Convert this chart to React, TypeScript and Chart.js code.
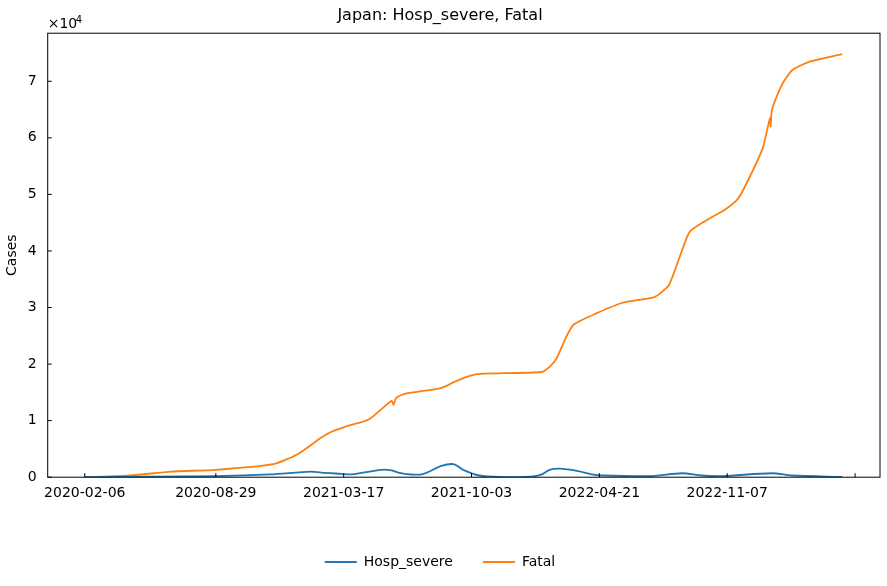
import React, { useEffect, useRef } from "react";
import { Chart, registerables } from "chart.js";
Chart.register(...registerables);

const tickDays = [0, 205, 405, 605, 805, 1005, 1205];
const tickLabels = ["2020-02-06", "2020-08-29", "2021-03-17", "2021-10-03", "2022-04-21", "2022-11-07", ""];
const fatalDays = [0, 72, 135, 205, 295, 332, 370, 385, 409, 444, 480, 483, 487, 503, 527, 558, 581, 605, 624, 715, 727, 738, 754, 765, 801, 840, 890, 900, 914, 934, 947, 981, 1000, 1020, 1031, 1060, 1072, 1073, 1075, 1091, 1107, 1135, 1185];
const fatalVals = [0, 300, 1000, 1300, 2300, 4000, 7000, 8000, 9000, 10200, 13500, 12800, 14000, 14800, 15200, 15800, 17000, 18000, 18300, 18600, 19500, 21000, 25000, 27000, 29000, 30800, 31800, 32500, 34000, 40000, 43500, 46000, 47200, 49000, 51000, 58000, 63500, 62000, 65000, 69500, 72000, 73500, 74800];
const hospDays = [0, 205, 290, 354, 370, 401, 417, 464, 480, 495, 527, 558, 577, 592, 617, 652, 699, 715, 727, 743, 770, 793, 809, 887, 934, 965, 997, 1075, 1107, 1185];
const hospVals = [0, 200, 500, 1000, 800, 600, 500, 1300, 1200, 700, 500, 2000, 2300, 1300, 300, 50, 100, 500, 1300, 1500, 1100, 500, 300, 200, 700, 300, 200, 700, 300, 50];

const frame = {
  id: "frame",
  afterDraw(c: any) {
    const { ctx, chartArea: a, scales } = c;
    ctx.save();
    ctx.strokeStyle = "#000";
    ctx.lineWidth = 1;
    ctx.strokeRect(a.left, a.top, a.right - a.left, a.bottom - a.top);
    ctx.beginPath();
    tickDays.forEach((d) => {
      const x = scales.x.getPixelForValue(d);
      ctx.moveTo(x, a.bottom); ctx.lineTo(x, a.bottom - 4);
    });
    for (let v = 0; v <= 70000; v += 10000) {
      const y = scales.y.getPixelForValue(v);
      ctx.moveTo(a.left, y); ctx.lineTo(a.left + 4, y);
    }
    ctx.stroke();
    ctx.fillStyle = "#000";
    ctx.font = "14px 'DejaVu Sans'";
    ctx.textBaseline = "bottom";
    ctx.fillText("×10", a.left, a.top - 2);
    ctx.font = "10px 'DejaVu Sans'";
    ctx.fillText("4", a.left + 28, a.top - 8);
    ctx.restore();
  },
};

export default function App() {
  const ref = useRef<HTMLCanvasElement>(null);
  useEffect(() => {
    document.body.style.margin = "0";
    const font = { family: "'DejaVu Sans'", size: 14 };
    const chart = new Chart(ref.current!, {
      type: "line",
      data: {
        datasets: [
          { label: "Hosp_severe", data: hospDays.map((d, i) => ({ x: d, y: hospVals[i] })), borderColor: "#1f77b4", backgroundColor: "#1f77b4", borderWidth: 1.8, pointRadius: 0, tension: 0.3 },
          { label: "Fatal", data: fatalDays.map((d, i) => ({ x: d, y: fatalVals[i] })), borderColor: "#ff7f0e", backgroundColor: "#ff7f0e", borderWidth: 1.8, pointRadius: 0, tension: 0.2 },
        ],
      },
      options: {
        animation: false,
        responsive: false,
        layout: { padding: { left: 0, right: 7, top: 0, bottom: 7 } },
        plugins: {
          title: { display: true, text: "Japan: Hosp_severe, Fatal", color: "#000", font: { ...font, size: 16, weight: "normal" as any }, padding: { top: 6, bottom: 8 } },
          legend: {
            position: "bottom",
            labels: { color: "#000", font, boxWidth: 32, boxHeight: 0, padding: 30 },
          },
          tooltip: { enabled: false },
        },
        scales: {
          x: {
            type: "linear", min: -58, max: 1244,
            afterBuildTicks: (s: any) => { s.ticks = tickDays.map((v) => ({ value: v })); },
            afterFit: (s: any) => { s.height += 23; },
            ticks: { color: "#000", font, autoSkip: false, maxRotation: 0, callback: (v: any) => tickLabels[tickDays.indexOf(Number(v))] ?? "", padding: 0 },
            grid: { display: false },
            border: { display: false },
          },
          y: {
            min: 0, max: 78500,
            afterBuildTicks: (s: any) => { s.ticks = [0, 1, 2, 3, 4, 5, 6, 7].map((v) => ({ value: v * 10000 })); },
            ticks: { color: "#000", font, callback: (v: any) => String(Number(v) / 10000) },
            grid: { display: false },
            border: { display: false },
            title: { display: true, text: "Cases", color: "#000", font },
          },
        },
      },
      plugins: [frame],
    });
    return () => chart.destroy();
  }, []);
  return <canvas ref={ref} width={887} height={586} style={{ display: "block" }} />;
}
